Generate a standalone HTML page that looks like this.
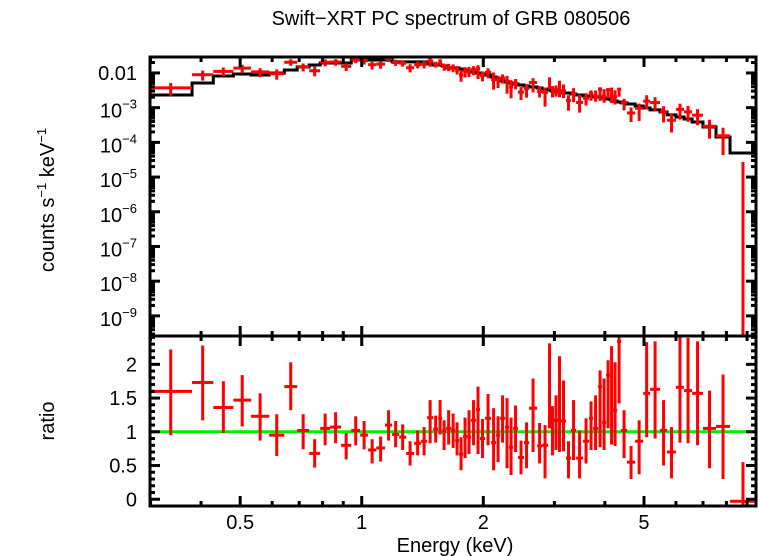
<!DOCTYPE html>
<html><head><meta charset="utf-8"><style>
html,body{margin:0;padding:0;background:#fff;}
svg{display:block;font-family:"Liberation Sans",sans-serif;}
</style></head><body>
<svg id="chart" width="758" height="556" viewBox="0 0 758 556">
<text x="451" y="25" font-size="20" text-anchor="middle">Swift−XRT PC spectrum of GRB 080506</text>
<text transform="translate(54,200) rotate(-90)" font-size="20" text-anchor="middle">counts s<tspan font-size="13" dy="-8">−1</tspan><tspan dy="8"> keV</tspan><tspan font-size="13" dy="-8">−1</tspan></text>
<text transform="translate(54,421) rotate(-90)" font-size="20" text-anchor="middle">ratio</text>
<text x="455" y="552" font-size="20" text-anchor="middle">Energy (keV)</text>
<g id="g-top"></g>
<g id="g-bot"></g>
<g id="g-axes"></g>
</svg>
<script>
const binEdges=[0.298,0.380,0.429,0.481,0.532,0.590,0.643,0.692,0.741,0.789,0.835,0.889,0.942,0.991,1.037,1.086,1.142,1.189,1.238,1.288,1.348,1.403,1.452,1.503,1.546,1.581,1.618,1.665,1.703,1.742,1.782,1.823,1.865,1.919,1.963,2.020,2.091,2.151,2.201,2.264,2.316,2.370,2.438,2.523,2.596,2.718,2.796,2.893,2.942,2.993,3.062,3.115,3.205,3.298,3.394,3.533,3.655,3.740,3.848,3.937,4.028,4.121,4.192,4.289,4.388,4.539,4.753,4.977,5.177,5.480,5.702,6.000,6.282,6.578,7.000,7.540,8.167,9.465];
const modelValues=[2.32e-3,5.15e-3,8.2e-3,9.35e-3,8.75e-3,0.0100,0.0122,0.0149,0.0170,0.0194,0.0194,0.0194,0.0237,0.0237,0.0237,0.0237,0.0237,0.0208,0.0208,0.0208,0.0208,0.0208,0.0182,0.0170,0.0170,0.0159,0.0139,0.0139,0.0139,0.0130,0.0122,0.0114,0.0107,0.0100,9.35e-3,8.75e-3,7.67e-3,6.71e-3,5.88e-3,5.5e-3,5.15e-3,4.82e-3,4.51e-3,4.22e-3,3.95e-3,3.70e-3,3.46e-3,3.24e-3,3.03e-3,2.83e-3,2.83e-3,2.65e-3,2.65e-3,2.48e-3,2.32e-3,2.17e-3,2.17e-3,2.03e-3,2.03e-3,1.90e-3,1.78e-3,1.67e-3,1.56e-3,1.46e-3,1.37e-3,1.28e-3,1.12e-3,9.8e-4,8.6e-4,7.5e-4,6.2e-4,5.4e-4,4.7e-4,3.87e-4,2.78e-4,1.43e-4,4.95e-5];
const ratioValues=[1.60,1.73,1.36,1.47,1.23,0.95,1.67,1.02,0.68,1.05,1.07,0.80,1.02,0.95,0.73,0.76,1.10,0.96,0.92,0.68,0.83,0.86,1.21,1.04,1.20,1.01,1.05,1.02,0.87,0.67,0.93,0.92,1.17,1.33,0.90,1.20,0.84,0.95,1.20,1.07,0.77,1.05,0.62,0.84,1.35,0.79,0.80,1.69,1.05,1.17,1.59,1.16,0.61,1.02,0.61,0.86,1.20,1.05,1.67,1.14,1.84,1.36,1.32,2.34,1.02,0.55,0.86,1.57,1.63,1.02,0.70,1.66,1.61,1.57,1.05,1.08,-0.03];
const ratioHigh=[2.22,2.28,1.75,1.84,1.57,1.26,2.03,1.26,0.89,1.27,1.29,0.98,1.23,1.16,0.89,0.93,1.32,1.16,1.11,0.86,1.02,1.07,1.47,1.24,1.47,1.17,1.32,1.27,1.14,0.92,1.21,1.32,1.47,1.67,1.19,1.56,1.35,1.23,1.54,1.50,1.21,1.39,0.87,1.14,1.79,1.13,1.10,2.31,1.38,1.54,2.12,1.76,0.86,1.47,1.02,1.20,1.45,1.54,1.91,1.79,2.06,2.27,2.03,2.41,1.32,0.79,1.17,2.33,2.34,1.47,1.07,2.41,2.39,2.34,1.61,1.85,0.55];
const ratioLow=[0.95,1.17,0.98,1.08,0.87,0.64,1.32,0.74,0.47,0.80,0.83,0.59,0.80,0.74,0.53,0.56,0.87,0.77,0.73,0.50,0.65,0.65,0.83,0.84,0.96,0.73,0.81,0.76,0.65,0.43,0.61,0.67,0.80,0.67,0.61,0.80,0.43,0.55,0.84,0.46,0.36,0.70,0.37,0.46,0.70,0.53,0.31,1.05,0.65,0.73,0.70,0.71,0.31,0.58,0.31,0.53,0.73,0.73,0.77,0.73,1.05,0.81,0.79,1.42,0.61,0.30,0.37,0.92,0.90,0.50,0.31,0.84,0.83,0.80,0.46,0.30,-0.10];
const xTickLabels=["0.5","1","2","5"];
const xTickValues=[0.5,1,2,5];
const yTopExps=[-3,-4,-5,-6,-7,-8,-9];
const yBotTicks=[0,0.5,1,1.5,2];
const yBotLabels=["0","0.5","1","1.5","2"];

const NS="http://www.w3.org/2000/svg";
const L=150,R=756,T=57,M=336,B=506;
const xMin=0.299,xMax=9.47;
const topMinLog=-9.58,topMaxLog=-1.54;
const botMin=-0.1,botMax=2.42;
function sx(e){return L+(Math.log10(e)-Math.log10(xMin))/(Math.log10(xMax)-Math.log10(xMin))*(R-L);}
function syTop(v){return T+(topMaxLog-Math.log10(v))/(topMaxLog-topMinLog)*(M-T);}
function syBot(v){return M+(botMax-v)/(botMax-botMin)*(B-M);}
function mk(parent,tag,attrs){const el=document.createElementNS(NS,tag);for(const k in attrs)el.setAttribute(k,attrs[k]);parent.appendChild(el);return el;}
const gT=document.getElementById('g-top'),gB=document.getElementById('g-bot'),gA=document.getElementById('g-axes');
const clipTop=mk(gT,'clipPath',{id:'ct'});mk(clipTop,'rect',{x:L,y:T,width:R-L,height:M-T});
const clipBot=mk(gB,'clipPath',{id:'cb'});mk(clipBot,'rect',{x:L,y:M,width:R-L,height:B-M});
const dT=mk(gT,'g',{'clip-path':'url(#ct)'});
const dB=mk(gB,'g',{'clip-path':'url(#cb)'});

let pts=[];
for(let i=0;i<modelValues.length;i++){const y=syTop(modelValues[i]);pts.push(sx(binEdges[i])+','+y, sx(binEdges[i+1])+','+y);}
const mline=mk(dT,'polyline',{points:pts.join(' '),fill:'none',stroke:'#000','stroke-width':3});



const gl=mk(dB,'line',{x1:L,x2:R,y1:syBot(1),y2:syBot(1),stroke:'#00ee00','stroke-width':3});



for(let i=0;i<ratioValues.length;i++){
  const x0=sx(binEdges[i]),x1=sx(binEdges[i+1]),xc=sx(Math.sqrt(binEdges[i]*binEdges[i+1]));
  const m=modelValues[i];
  const g=mk(dT,'g',{stroke:'#ff0000','stroke-width':3});
  
  
  const f=m*ratioValues[i],fh=m*ratioHigh[i],fl=m*ratioLow[i];
  const yh=syTop(fh),yl=fl>0?syTop(fl):M+5;
  mk(g,'line',{x1:xc,x2:xc,y1:yh,y2:yl});
  if(f>0){const y=syTop(f);mk(g,'line',{x1:x0,x2:x1,y1:y,y2:y});}
  const g2=mk(dB,'g',{stroke:'#ff0000','stroke-width':3});
  
  
  mk(g2,'line',{x1:xc,x2:xc,y1:syBot(ratioHigh[i]),y2:syBot(ratioLow[i])});
  const yr=syBot(ratioValues[i]);
  mk(g2,'line',{x1:x0,x2:x1,y1:yr,y2:yr});
}

mk(gA,'rect',{x:L,y:T,width:R-L,height:M-T,fill:'none',stroke:'#000','stroke-width':3});
mk(gA,'rect',{x:L,y:M,width:R-L,height:B-M,fill:'none',stroke:'#000','stroke-width':3});
function tick(x1,y1,x2,y2){mk(gA,'line',{x1:x1,y1:y1,x2:x2,y2:y2,stroke:'#000','stroke-width':3});}
const minorX=[0.3,0.4,0.6,0.7,0.8,0.9,3,4,6,7,8,9];
[[T,1],[M,-1],[M,1],[B,-1]].forEach(([y0,d])=>{
  xTickValues.forEach(v=>{const x=sx(v);tick(x,y0,x,y0+d*10);});
  minorX.forEach(v=>{const x=sx(v);tick(x,y0,x,y0+d*5);});
});
xTickValues.forEach((v,i)=>{const t=mk(gA,'text',{x:sx(v),y:529,'font-size':20,'text-anchor':'middle'});t.textContent=xTickLabels[i];

});
for(let e=-10;e<=-2;e++){
  for(let k=1;k<10;k++){const v=k*Math.pow(10,e);const lv=Math.log10(v);if(lv<topMinLog||lv>topMaxLog)continue;const y=syTop(v);const len=k===1?10:5;tick(L,y,L+len,y);tick(R,y,R-len,y);}
}
{const t=mk(gA,'text',{x:137,y:80,'font-size':20,'text-anchor':'end'});t.textContent='0.01';

}
yTopExps.forEach(e=>{const y=syTop(Math.pow(10,e));const t=mk(gA,'text',{x:137,y:y+10,'font-size':20,'text-anchor':'end'});
t.innerHTML='10<tspan font-size="13" dy="-9">−'+(-e)+'</tspan>';

});
for(let k=-1;k<=24;k++){const v=k/10;const y=syBot(v);if(y<M||y>B)continue;const len=(k%5===0)?10:5;tick(L,y,L+len,y);tick(R,y,R-len,y);}
yBotTicks.forEach((v,i)=>{const t=mk(gA,'text',{x:137,y:syBot(v)+7,'font-size':20,'text-anchor':'end'});t.textContent=yBotLabels[i];

});
</script>
</body></html>
